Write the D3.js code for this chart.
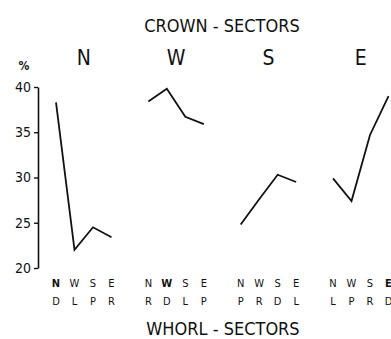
<!DOCTYPE html>
<html>
<head>
<meta charset="utf-8">
<script src="https://cdn.jsdelivr.net/npm/d3@7"></script>
<style>
  body { margin: 0; background: #fff; }
  text { font-family: "DejaVu Sans Condensed", "DejaVu Sans", sans-serif; fill: #111; }
</style>
</head>
<body>
<div id="chart"></div>
<script>
var width = 391, height = 339;

// crown sectors (panels) and whorl sectors (points inside a panel)
var crownSectors = ["N", "W", "S", "E"];
var whorlSectors = ["N", "W", "S", "E"];
// second label row under each panel
var whorlRow2 = {
    N: ["D", "L", "P", "R"],
    W: ["R", "D", "L", "P"],
    S: ["P", "R", "D", "L"],
    E: ["L", "P", "R", "D"]
};
// percentages
var valuesN = [38.3, 22.0, 24.5, 23.4];
var valuesW = [38.4, 39.8, 36.7, 35.9];
var valuesS = [24.8, 27.6, 30.3, 29.5];
var valuesE = [29.9, 27.4, 34.7, 39.0];
var yTicks = [20, 25, 30, 35, 40];

var series = { N: valuesN, W: valuesW, S: valuesS, E: valuesE };

var svg = d3.select("#chart").append("svg")
    .attr("width", width)
    .attr("height", height);

var y = d3.scaleLinear().domain([20, 40]).range([268, 87]);
var panelX = d3.scalePoint().domain(crownSectors).range([56, 333]);
var innerX = d3.scalePoint().domain(whorlSectors).range([0, 55.5]);

// y axis
var yAxis = svg.append("g")
    .attr("transform", "translate(38,0)")
    .call(d3.axisLeft(y).tickValues(yTicks).tickSize(4).tickSizeOuter(0).tickPadding(3));
yAxis.select(".domain").attr("stroke", "#111").attr("stroke-width", 1.6);
yAxis.selectAll(".tick line").attr("stroke", "#111").attr("stroke-width", 1.4);
yAxis.selectAll(".tick text")
    .style("font-size", "14px")
    .attr("fill", "#111");

svg.append("text")
    .attr("x", 24).attr("y", 70)
    .attr("text-anchor", "middle")
    .style("font-size", "12px")
    .style("font-weight", "bold")
    .text("%");

// titles
svg.append("text")
    .attr("x", 222).attr("y", 32)
    .attr("text-anchor", "middle")
    .style("font-size", "18px")
    .text("CROWN - SECTORS");

svg.append("text")
    .attr("x", 223).attr("y", 335)
    .attr("text-anchor", "middle")
    .style("font-size", "18px")
    .text("WHORL - SECTORS");

var line = d3.line()
    .x(function (d, i) { return innerX(whorlSectors[i]); })
    .y(function (d) { return y(d); });

var panels = svg.selectAll(".panel")
    .data(crownSectors)
    .enter()
    .append("g")
    .attr("class", "panel")
    .attr("transform", function (d) { return "translate(" + panelX(d) + ",0)"; });

// panel heading
panels.append("text")
    .attr("x", innerX.range()[1] / 2)
    .attr("y", 65)
    .attr("text-anchor", "middle")
    .style("font-size", "21px")
    .text(function (d) { return d; });

panels.append("path")
    .attr("d", function (d) { return line(series[d]); })
    .attr("fill", "none")
    .attr("stroke", "#111")
    .attr("stroke-width", 1.8)
    .attr("stroke-linejoin", "miter");

// two rows of whorl labels
panels.each(function (crown) {
    var g = d3.select(this);
    g.selectAll(".row1")
        .data(whorlSectors)
        .enter()
        .append("text")
        .attr("class", "row1")
        .attr("x", function (d) { return innerX(d); })
        .attr("y", 287)
        .attr("text-anchor", "middle")
        .style("font-size", "11px")
        .style("font-weight", function (d) { return (d === crown && crown !== "S") ? "bold" : "normal"; })
        .text(function (d) { return d; });
    g.selectAll(".row2")
        .data(whorlRow2[crown])
        .enter()
        .append("text")
        .attr("class", "row2")
        .attr("x", function (d, i) { return innerX(whorlSectors[i]); })
        .attr("y", 305)
        .attr("text-anchor", "middle")
        .style("font-size", "11px")
        .text(function (d) { return d; });
});
</script>
</body>
</html>
